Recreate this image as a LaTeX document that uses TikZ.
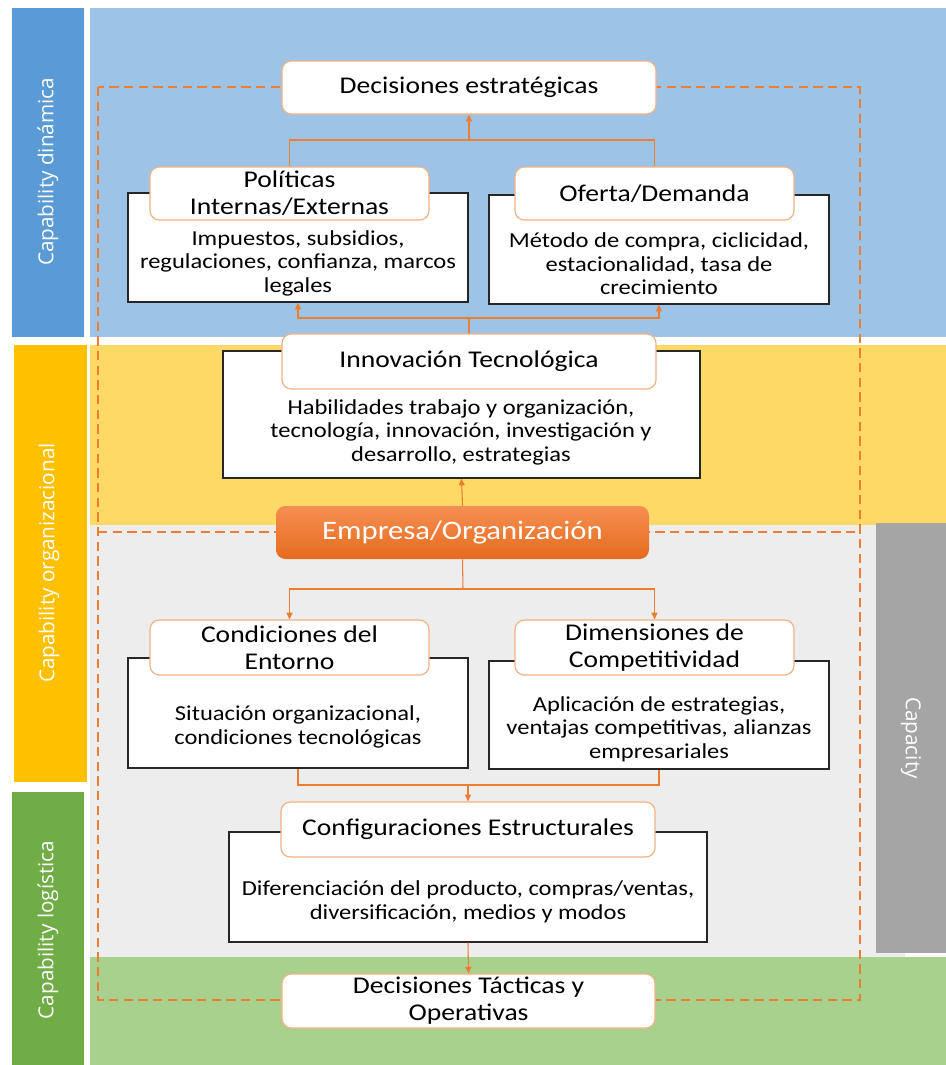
\documentclass[tikz,border=0pt]{standalone}
\usepackage{fontspec}
\setmainfont{Carlito}[FakeStretch=1.15]
\newfontfamily\bandfont{Open Sans}
\usetikzlibrary{arrows.meta}
\definecolor{bandblue}{HTML}{5B9BD5}
\definecolor{bgblue}{HTML}{9DC3E6}
\definecolor{bandyellow}{HTML}{FFC000}
\definecolor{bgyellow}{HTML}{FFD966}
\definecolor{bandgreen}{HTML}{70AD47}
\definecolor{bggreen}{HTML}{A9D18E}
\definecolor{bandgrey}{HTML}{A5A5A5}
\definecolor{bggrey}{HTML}{EDEDED}
\definecolor{orangeline}{HTML}{ED7D31}
\definecolor{hdrline}{HTML}{F4B183}
\definecolor{bodyline}{HTML}{262626}
\definecolor{emptop}{HTML}{F58F52}
\definecolor{empbot}{HTML}{E66B1F}
\tikzset{
  bxy/.style n args={4}{at={({(#1+#3)/2},{(#2+#4)/2})}, minimum width={(#3-#1)*0.75pt}, minimum height={(#4-#2)*0.75pt}},
  hdr/.style={draw=hdrline, line width=0.9pt, fill=white, rounded corners=7pt, inner sep=0pt, align=center, font=\fontsize{18}{20.25}\selectfont},
  bodybox/.style={draw=bodyline, line width=1pt, fill=white, inner sep=0pt},
  btxt/.style={align=center, inner sep=0pt, font=\fontsize{16}{17.6}\selectfont},
  band/.style={text=white, inner sep=0pt, font=\bandfont\fontsize{15.5}{18}\selectfont},
  conn/.style={draw=orangeline, line width=0.8pt},
  arr/.style={conn, -{Triangle[length=5pt,width=4.5pt]}},
  dashbox/.style={draw=orangeline, line width=1.4pt, dash pattern=on 7pt off 4pt}
}
\begin{document}
\begin{tikzpicture}[x=0.75pt,y=-0.75pt]
\useasboundingbox (0,0) rectangle (946,1065);
\fill[white] (0,0) rectangle (946,1065);
% backgrounds
\fill[bgblue] (90,8) rectangle (946,337);
\fill[bgyellow] (90,345) rectangle (946,525);
\fill[bggrey] (90,525) rectangle (905,957);
\fill[bggreen] (90,957) rectangle (946,1065);
\fill[bandgrey] (876,523) rectangle (946,953);
\fill[bandblue] (12,8) rectangle (84,337);
\fill[bandyellow] (14,345) rectangle (87,782);
\fill[bandgreen] (12,792) rectangle (84,1065);
% band labels
\node[band, rotate=90] (lb1) at (48,172) {Capability dinámica};
\node[band, rotate=90] (lb2) at (49,563) {Capability organizacional};
\node[band, rotate=90] (lb3) at (48,930) {Capability logística};
\node[band, rotate=-90] (lb4) at (911,738) {Capacity};
% dashed frame
\draw[dashbox] (98,87) rectangle (860,1000);
\draw[dashbox] (98,532) -- (860,532);
% coordinates for connectors
\coordinate (c1) at (469,140);
\coordinate (c2) at (469,318);
\coordinate (c3) at (463,589);
\coordinate (c4) at (468,785);
% boxes
\node[hdr, bxy={282}{61}{656}{114}] (d1) {Decisiones estratégicas};
\node[bodybox, bxy={128}{193}{468}{302}] (p1b) {};
\node[bodybox, bxy={489}{195}{829}{304}] (o1b) {};
\node[hdr, bxy={150}{167}{429}{220}] (p1h) {Políticas\\Internas/Externas};
\node[hdr, bxy={515}{167}{794}{220}] (o1h) {Oferta/Demanda};
\node[btxt] (p1t) at (298,263) {Impuestos, subsidios,\\regulaciones, confianza, marcos\\legales};
\node[btxt] (o1t) at (659,264) {Método de compra, ciclicidad,\\estacionalidad, tasa de\\crecimiento};
\node[bodybox, bxy={223}{351}{700}{478}] (ib) {};
\node[hdr, bxy={282}{334}{656}{389}] (ih) {Innovación Tecnológica};
\node[btxt] (it) at (461,432) {Habilidades trabajo y organización,\\tecnología, innovación, investigación y\\desarrollo, estrategias};
\node[draw=none, rounded corners=7pt, top color=emptop, bottom color=empbot, inner sep=0pt, text=white, font=\fontsize{20}{22}\selectfont, bxy={276}{506}{649}{559}] (emp) {Empresa/Organización};
\node[bodybox, bxy={128}{658}{468}{768}] (cb) {};
\node[bodybox, bxy={489}{661}{829}{769}] (db) {};
\node[hdr, bxy={150}{620}{429}{675}] (ch) {Condiciones del\\Entorno};
\node[hdr, bxy={515}{620}{794}{675}] (dh) {Dimensiones de\\Competitividad};
\node[btxt] (ct) at (298,727) {Situación organizacional,\\condiciones tecnológicas};
\node[btxt] (dt2) at (659,729) {Aplicación de estrategias,\\ventajas competitivas, alianzas\\empresariales};
\node[bodybox, bxy={229}{832}{707}{942}] (kb) {};
\node[hdr, bxy={281}{802}{655}{857}] (kh) {Configuraciones Estructurales};
\node[btxt] (kt) at (468,902) {Diferenciación del producto, compras/ventas,\\diversificación, medios y modos};
\node[hdr, bxy={282}{974}{655}{1028}] (dt) {Decisiones Tácticas y\\Operativas};
% connectors
\draw[conn] (p1h.north) |- (c1) -| (o1h.north);
\draw[arr] (c1) -- (d1.south);
\draw[conn] (ih.north) -- (c2);
\draw[arr] (c2) -| (p1b.south);
\draw[arr] (c2) -| (o1b.south);
\draw[arr] (emp.north) -- (ib.south);
\draw[conn] (emp.south) -- (c3);
\draw[arr] (c3) -| (ch.north);
\draw[arr] (c3) -| (dh.north);
\draw[conn] (cb.south) |- (c4) -| (db.south);
\draw[arr] (c4) -- (kh.north);
\draw[arr] (kb.south) -- (dt.north);
\end{tikzpicture}
\end{document}
